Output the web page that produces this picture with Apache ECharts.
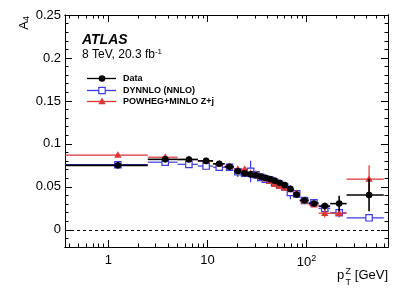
<!DOCTYPE html>
<html><head><meta charset="utf-8">
<script src="https://cdn.jsdelivr.net/npm/echarts@6/dist/echarts.min.js"></script>
<style>html,body{margin:0;padding:0;background:#fff}#c{width:409px;height:294px}</style>
</head><body><div id="c"></div>
<script>
// p_T^Z bin edges [GeV]
const binEdges = [0, 2.5, 5.0, 8.0, 11.4, 14.9, 18.5, 22.0, 25.5, 29.0, 32.6, 36.4, 40.4, 44.9, 50.2, 56.4, 63.9, 73.4, 85.4, 105.0, 132.0, 173.0, 253.0, 600.0];
// Data
const dataVals = [0.075, 0.082, 0.0818, 0.0802, 0.0768, 0.0733, 0.0682, 0.0658, 0.0645, 0.0634, 0.0619, 0.0604, 0.059, 0.0572, 0.0548, 0.052, 0.0476, 0.041, 0.0343, 0.0307, 0.0276, 0.0305, 0.0405];
const dataErrs = [0.0025, 0.002, 0.002, 0.002, 0.002, 0.002, 0.002, 0.002, 0.002, 0.002, 0.002, 0.002, 0.002, 0.002, 0.002, 0.002, 0.0025, 0.003, 0.003, 0.003, 0.004, 0.009, 0.019];
// DYNNLO (NNLO)
const dynnloVals = [0.0758, 0.0787, 0.0762, 0.0742, 0.0728, 0.0728, 0.0675, 0.066, 0.068, 0.064, 0.061, 0.059, 0.0578, 0.0552, 0.053, 0.0498, 0.0435, 0.0418, 0.0342, 0.0315, 0.025, 0.0198, 0.014];
const dynnloErrs = [0.0015, 0.0015, 0.0015, 0.0015, 0.0015, 0.004, 0.006, 0.004, 0.0125, 0.003, 0.003, 0.003, 0.003, 0.003, 0.003, 0.003, 0.008, 0.004, 0.002, 0.002, 0.002, 0.002, 0.003];
// POWHEG+MINLO Z+j
const powhegVals = [0.087, 0.0845, 0.082, 0.0802, 0.0768, 0.074, 0.0705, 0.0705, 0.066, 0.065, 0.062, 0.0595, 0.0565, 0.053, 0.0505, 0.0485, 0.047, 0.0425, 0.0335, 0.029, 0.0193, 0.0193, 0.059];
const powhegErrs = [0.002, 0.002, 0.002, 0.002, 0.002, 0.002, 0.002, 0.002, 0.002, 0.002, 0.002, 0.002, 0.002, 0.002, 0.002, 0.002, 0.002, 0.002, 0.002, 0.002, 0.005, 0.005, 0.016];
// axis ticks
const xMajorTicks = [1, 10, 100];
const xMinorTicks = [0.4, 0.5, 0.6, 0.7, 0.8, 0.9, 2, 3, 4, 5, 6, 7, 8, 9, 20, 30, 40, 50, 60, 70, 80, 90, 200, 300, 400, 500, 600];
const yMajorTicks = [0, 0.05, 0.1, 0.15, 0.2, 0.25];
const yMinorTicks = [-0.01, 0.01, 0.02, 0.03, 0.04, 0.06, 0.07, 0.08, 0.09, 0.11, 0.12, 0.13, 0.14, 0.16, 0.17, 0.18, 0.19, 0.21, 0.22, 0.23, 0.24];
const X_MIN = 0.366, X_MAX = 662, Y_MIN = -0.02, Y_MAX = 0.25;

const FONT = 'Liberation Sans, Arial, Helvetica, sans-serif';
const RED = '#dd3434', BLUE = '#3a3ae0', BLACK = '#000';

function rows(vals, errs) {
  return vals.map((v, i) => {
    const lo = binEdges[i], hi = binEdges[i + 1];
    return [(lo + hi) / 2, v, lo, hi, errs[i]];
  });
}
function markerShape(kind, x, y, color) {
  if (kind === 'circle') return {type: 'circle', shape: {cx: x, cy: y, r: 3.3}, style: {fill: color}};
  if (kind === 'square') return {type: 'rect', shape: {x: x - 3.2, y: y - 3.2, width: 6.4, height: 6.4}, style: {fill: '#fff', stroke: color, lineWidth: 1.2}};
  return {type: 'polygon', shape: {points: [[x, y - 3.9], [x - 3.7, y + 2.7], [x + 3.7, y + 2.7]]}, style: {fill: color}};
}
function renderer(kind, color, lw) {
  return function (params, api) {
    const cx = api.value(0), v = api.value(1), lo = api.value(2), hi = api.value(3), e = api.value(4);
    const cs = params.coordSys;
    const p = api.coord([cx, v]);
    const xl = lo > 0 ? api.coord([lo, v])[0] : cs.x;
    const xh = api.coord([hi, v])[0];
    const yt = api.coord([cx, v + e])[1], yb = api.coord([cx, v - e])[1];
    return {type: 'group', children: [
      {type: 'line', shape: {x1: xl, y1: p[1], x2: xh, y2: p[1]}, style: {stroke: color, lineWidth: lw}},
      {type: 'line', shape: {x1: p[0], y1: yt, x2: p[0], y2: yb}, style: {stroke: color, lineWidth: lw}},
      markerShape(kind, p[0], p[1], color)
    ]};
  };
}
function xAx(pos, vals, len, showLabel) {
  return {
    type: 'log', logBase: 10, min: X_MIN, max: X_MAX, position: pos, gridIndex: 0,
    axisLine: {show: true, onZero: false, lineStyle: {color: '#000', width: 1}},
    axisTick: {show: true, inside: true, length: len, customValues: vals, lineStyle: {color: '#000', width: 1}},
    axisLabel: {show: showLabel, customValues: vals, margin: 7, color: '#000', fontFamily: FONT, fontSize: 13,
      formatter: v => (Math.abs(v - 100) < 1e-6 ? '10{s|2}' : String(Math.round(v))),
      rich: {s: {fontSize: 9, verticalAlign: 'top', padding: [0, 0, 7, 0], fontFamily: FONT, color: '#000'}}},
    splitLine: {show: false}, minorTick: {show: false}
  };
}
function yAx(pos, vals, len, showLabel) {
  return {
    type: 'value', min: Y_MIN, max: Y_MAX, position: pos, gridIndex: 0,
    axisLine: {show: true, onZero: false, lineStyle: {color: '#000', width: 1}},
    axisTick: {show: true, inside: true, length: len, customValues: vals, lineStyle: {color: '#000', width: 1}},
    axisLabel: {show: showLabel, customValues: vals, margin: 4, color: '#000', fontFamily: FONT, fontSize: 13,
      formatter: v => String(+(+v).toFixed(2))},
    splitLine: {show: false}, minorTick: {show: false}
  };
}
function series(name, vals, errs, kind, color, lw, extra) {
  return Object.assign({
    type: 'custom', name, xAxisIndex: 0, yAxisIndex: 0, clip: true,
    data: rows(vals, errs), encode: {x: 0, y: 1},
    renderItem: renderer(kind, color, lw)
  }, extra || {});
}
function legendRow(y, kind, color, label) {
  return [
    {type: 'line', shape: {x1: 87, y1: y, x2: 116, y2: y}, style: {stroke: color, lineWidth: 1.3}},
    markerShape(kind, 102, y, color),
    {type: 'text', x: 123, y: y, style: {text: label, fontFamily: FONT, fontWeight: 'bold', fontSize: 9, fill: '#000', verticalAlign: 'middle'}}
  ];
}

const chart = echarts.init(document.getElementById('c'), null, {renderer: 'canvas'});
chart.setOption({
  animation: false,
  backgroundColor: '#fff',
  grid: {left: 65, top: 15, right: 21, bottom: 47, containLabel: false},
  xAxis: [xAx('bottom', xMajorTicks, 7, true), xAx('bottom', xMinorTicks, 3.5, false),
          xAx('top', xMajorTicks, 7, false), xAx('top', xMinorTicks, 3.5, false)],
  yAxis: [yAx('left', yMajorTicks, 7, true), yAx('left', yMinorTicks, 3.5, false),
          yAx('right', yMajorTicks, 7, false), yAx('right', yMinorTicks, 3.5, false)],
  series: [
    series('DYNNLO (NNLO)', dynnloVals, dynnloErrs, 'square', BLUE, 1.2, {
      markLine: {silent: true, symbol: 'none', label: {show: false},
        lineStyle: {color: '#000', width: 1, type: [3, 3]}, data: [{yAxis: 0}]}
    }),
    series('POWHEG+MINLO Z+j', powhegVals, powhegErrs, 'triangle', RED, 1.2),
    series('Data', dataVals, dataErrs, 'circle', BLACK, 1.6)
  ],
  graphic: [
    {type: 'text', x: 24, y: 16, rotation: Math.PI / 2,
      style: {text: 'A{s|4}', fontFamily: FONT, fontSize: 13, fill: '#000', align: 'right', verticalAlign: 'middle',
        rich: {s: {fontSize: 9, verticalAlign: 'bottom', padding: [6, 0, 0, 0], fontFamily: FONT}}}},
    {type: 'text', x: 82, y: 33, style: {text: 'ATLAS', fontFamily: FONT, fontSize: 14, fontWeight: 'bold', fontStyle: 'italic', fill: '#000'}},
    {type: 'text', x: 82, y: 55, style: {text: '8 TeV, 20.3 fb{s|-1}', fontFamily: FONT, fontSize: 12, fill: '#000', verticalAlign: 'middle',
      rich: {s: {fontSize: 8, verticalAlign: 'top', padding: [0, 0, 6, 0], fontFamily: FONT}}}},
    ...legendRow(78.5, 'circle', BLACK, 'Data'),
    ...legendRow(90.5, 'square', BLUE, 'DYNNLO (NNLO)'),
    ...legendRow(101.5, 'triangle', RED, 'POWHEG+MINLO Z+j'),
    {type: 'text', x: 337, y: 282, style: {text: 'p', fontFamily: FONT, fontSize: 13, fill: '#000', verticalAlign: 'bottom'}},
    {type: 'text', x: 345.5, y: 272, style: {text: 'Z', fontFamily: FONT, fontSize: 9, fill: '#000', verticalAlign: 'middle'}},
    {type: 'text', x: 345.5, y: 283, style: {text: 'T', fontFamily: FONT, fontSize: 9, fill: '#000', verticalAlign: 'middle'}},
    {type: 'text', x: 388, y: 282, style: {text: '[GeV]', fontFamily: FONT, fontSize: 13, fill: '#000', align: 'right', verticalAlign: 'bottom'}}
  ]
});
</script></body></html>
